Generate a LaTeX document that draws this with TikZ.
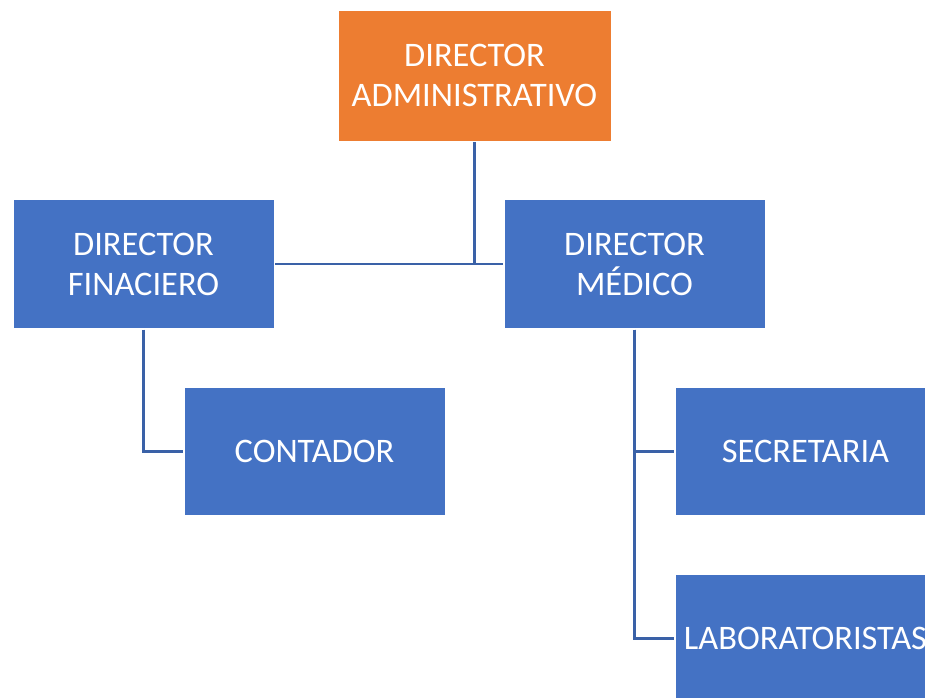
\documentclass[tikz,border=0pt]{standalone}
\usepackage{fontspec}
\setmainfont{Carlito}
\definecolor{boxorange}{HTML}{ED7D31}
\definecolor{boxblue}{HTML}{4472C4}
\definecolor{linkblue}{HTML}{3A61A7}
\begin{document}
\begin{tikzpicture}[x=0.75pt,y=-0.75pt,
  unit/.style={rectangle, draw=white, line width=0.6pt, fill=boxblue,
    text=white, align=center, inner sep=0pt, outer sep=1pt,
    minimum width=195.75pt, minimum height=96.5pt,
    font=\fontsize{25.8}{30}\selectfont},
  head/.style={unit, fill=boxorange, minimum width=204.75pt, minimum height=98.25pt},
  link/.style={draw=linkblue, line width=2.2pt}]
  \useasboundingbox (0,0) rectangle (925,697);
  \clip (0,0) rectangle (925,697);

  % boxes of the organisation chart
  \node[head] (adm) at (474.5,75.5) {DIRECTOR\\ADMINISTRATIVO};
  \node[unit] (fin) at (143.5,264) {DIRECTOR\\FINACIERO};
  \node[unit] (med) at (634.5,264) {DIRECTOR\\MÉDICO};
  \node[unit] (cont) at (314.5,451.5) {CONTADOR};
  \node[unit] (sec) at (805.5,451.5) {SECRETARIA};
  \node[unit] (lab) at (805.5,638.5) {LABORATORISTAS};

  % connectors
  \draw[link] (fin.east) -- (med.west);
  \draw[link] (adm.south) -- (adm.south |- fin.east);
  \draw[link] (fin.south) |- (cont.west);
  \draw[link] (med.south) |- (sec.west);
  \draw[link] (med.south) |- (lab.west);
\end{tikzpicture}
\end{document}
